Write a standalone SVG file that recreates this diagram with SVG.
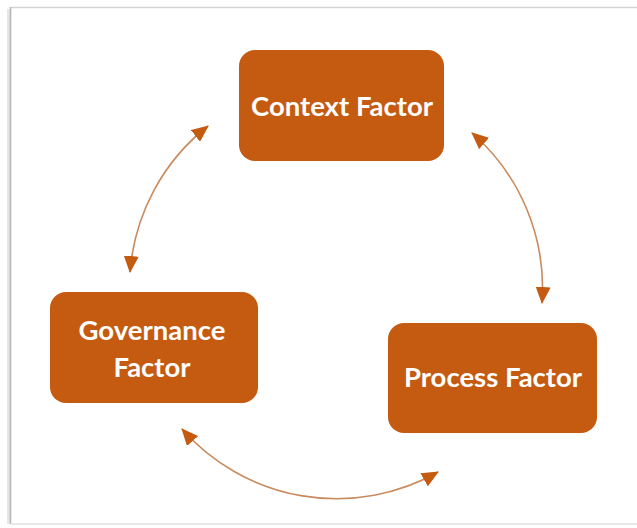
<svg xmlns="http://www.w3.org/2000/svg" width="637" height="528" viewBox="0 0 637 528">
<defs>
<style>
.box{fill:#C55A11;}
.lbl{fill:#ffffff;font-family:Lato,"Liberation Sans",sans-serif;font-weight:bold;font-size:27.5px;text-anchor:middle;}
.con{fill:none;stroke:#C98A5E;stroke-width:1.6;marker-start:url(#ah);marker-end:url(#ah);}
</style>
<marker id="ah" viewBox="0 0 17 15" refX="16" refY="7.5" markerWidth="17" markerHeight="15" markerUnits="userSpaceOnUse" orient="auto-start-reverse">
<path d="M0,0 L17,7.5 L0,15 z" fill="#C55A11"/>
</marker>
</defs>
<rect x="0" y="0" width="637" height="528" fill="#ffffff"/>
<g id="frame">
<line x1="8.5" y1="9" x2="8.5" y2="524" stroke="#e6e6e6" stroke-width="3"/>
<line x1="10.5" y1="7.5" x2="637" y2="7.5" stroke="#d4d4d4" stroke-width="1.5"/>
<line x1="10.5" y1="7" x2="10.5" y2="524" stroke="#b4b4b4" stroke-width="1.5"/>
<line x1="10.5" y1="524" x2="637" y2="524" stroke="#e2e2e2" stroke-width="1.5"/>
</g>
<g id="connectors">
<path class="con" d="M130,272 A206,206 0 0 1 208,126"/>
<path class="con" d="M472,133 A206,206 0 0 1 542,303"/>
<path class="con" d="M438,472 A206,206 0 0 1 182,429"/>
</g>
<g id="context">
<rect class="box" x="239" y="50" width="205" height="111" rx="16"/>
<text class="lbl" x="342" y="116">Context Factor</text>
</g>
<g id="governance">
<rect class="box" x="50" y="292" width="208" height="111" rx="16"/>
<text class="lbl" x="152" y="340">Governance</text>
<text class="lbl" x="152" y="377">Factor</text>
</g>
<g id="process">
<rect class="box" x="388" y="323" width="209" height="110" rx="16"/>
<text class="lbl" x="493" y="387">Process Factor</text>
</g>
</svg>
